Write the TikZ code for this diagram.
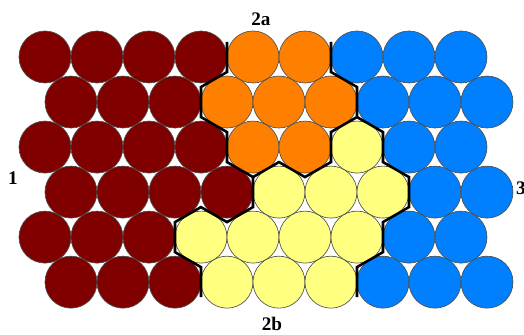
\documentclass[tikz,border=0pt]{standalone}
\usepackage{fontspec}
\setmainfont{Liberation Serif}
\usepackage{xcolor}
\usepackage{tikz}

\definecolor{reg1}{RGB}{128,0,0}
\definecolor{reg2a}{RGB}{255,128,0}
\definecolor{reg2b}{RGB}{255,255,128}
\definecolor{reg3}{RGB}{0,128,255}

\begin{document}
\begin{tikzpicture}[
  % ---- styles ----
  disc/.style={
    circle, draw=gray!60!black, line width=0.35pt,
    minimum size=1cm, inner sep=0pt
  },
  border/.style={
    draw=black, line width=1.4pt, line join=miter
  },
  lbl/.style={
    font=\fontsize{10.5}{12}\selectfont\bfseries, inner sep=0pt
  },
]
\useasboundingbox (-0.865,1.096) rectangle (9.212,-5.346);

% ---- packing (rows top to bottom, odd rows shifted half a disc) ----
\foreach \r/\cells in {
  0/{1,1,1,1,2a,2a,3,3,3},
  1/{1,1,1,2a,2a,2a,3,3,3},
  2/{1,1,1,1,2a,2a,2b,3,3},
  3/{1,1,1,1,2b,2b,2b,3,3},
  4/{1,1,1,2b,2b,2b,2b,3,3},
  5/{1,1,1,2b,2b,2b,3,3,3}}
  \foreach \c [count=\i from 0] in \cells
    \node[disc, fill=reg\c] (d-\r-\i) at ({\i+0.5*mod(\r,2)}, {-0.866*\r}) {};

% ---- boundary 1 | 2a,2b ----
\draw[border] (3.5,0.289) -- (3.5,-0.289) -- (3,-0.577) -- (3,-1.155)
  -- (3.5,-1.443) -- (3.5,-2.021) -- (4,-2.309) -- (4,-2.887)
  -- (3.5,-3.175) -- (3,-2.887) -- (2.5,-3.175) -- (2.5,-3.753)
  -- (3,-4.041) -- (3,-4.619);

% ---- boundary 2a | 2b ----
\draw[border] (4,-2.309) -- (4.5,-2.021) -- (5,-2.309) -- (5.5,-2.021)
  -- (5.5,-1.443) -- (6,-1.155);

% ---- boundary 2a,2b | 3 ----
\draw[border] (5.5,0.289) -- (5.5,-0.289) -- (6,-0.577) -- (6,-1.155)
  -- (6.5,-1.443) -- (6.5,-2.021) -- (7,-2.309) -- (7,-2.887)
  -- (6.5,-3.175) -- (6.5,-3.753) -- (6,-4.041) -- (6,-4.619);

% ---- region labels ----
\node[lbl] (l2a) at (4.154, 0.731) {2a};
\node[lbl] (l1)  at (-0.615,-2.337) {1};
\node[lbl] (l3)  at (9.154,-2.52) {3};
\node[lbl] (l2b) at (4.365,-5.125) {2b};

\end{tikzpicture}
\end{document}
